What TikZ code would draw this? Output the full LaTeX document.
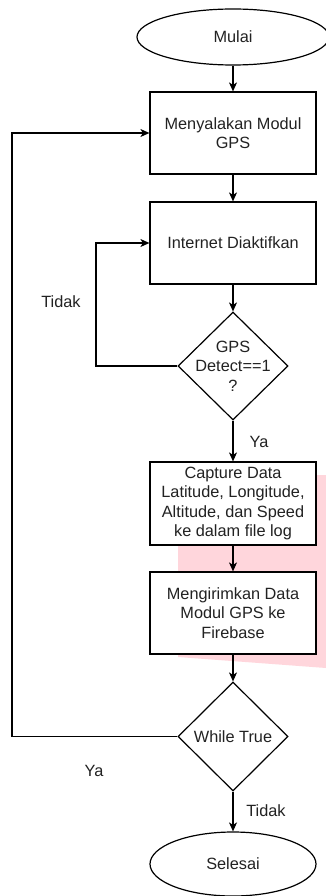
\documentclass[tikz,border=0pt]{standalone}
\usepackage{fontspec}
\setmainfont{Liberation Sans}
\usetikzlibrary{shapes.geometric,arrows.meta}
\definecolor{ink}{RGB}{34,34,34}
\definecolor{blush}{RGB}{255,214,220}
\begin{document}
\begin{tikzpicture}[x=1pt,y=-1pt,
  base/.style={draw=black, line width=1.2pt, fill=white, text=ink,
    font=\fontsize{16.3}{19.5}\selectfont, align=center, inner sep=0pt},
  terminal/.style={base, ellipse},
  process/.style={base, rectangle, minimum width=166pt, minimum height=82pt},
  decision/.style={base, diamond, minimum width=110pt, minimum height=108pt},
  caption/.style={text=ink, font=\fontsize{16.3}{19.5}\selectfont,
    align=center, inner sep=0pt},
  flow/.style={draw=black, line width=1.2pt,
    -{Stealth[length=9pt,width=8pt,inset=2.5pt]}}
]
% canvas
\fill[white] (0,0) rectangle (326,896);
\useasboundingbox (0,0) rectangle (326,896);

% pink highlight behind the two lower process boxes
\fill[blush] (178,478) -- (326,475) -- (326,668) -- (178,657) -- cycle;

% nodes
\node[terminal, minimum width=192pt, minimum height=56pt] (start) at (233,37) {Mulai};
\node[process] (gps) at (233,133) {Menyalakan Modul\\GPS};
\node[process] (net) at (233,243) {Internet Diaktifkan};
\node[decision] (detect) at (233,366) {};
\node[caption] (detecttxt) at (detect.center) {GPS\\Detect==1\\?};
\node[process, minimum height=83pt] (capture) at (233,503.5)
  {Capture Data\\Latitude, Longitude,\\Altitude, dan Speed\\ke dalam file log};
\node[process] (send) at (233,613) {Mengirimkan Data\\Modul GPS ke\\Firebase};
\node[decision, minimum height=109pt] (loop) at (233,736.5) {};
\node[caption] (looptxt) at (loop.center) {While True};
\node[terminal, minimum width=166pt, minimum height=64pt] (stop) at (233,864) {Selesai};

% bends of the return paths
\coordinate (k1) at (96,366);
\coordinate (k2) at (12,736.5);

% main flow
\draw[flow] (start) -- (gps);
\draw[flow] (gps) -- (net);
\draw[flow] (net) -- (detect);
\draw[flow] (detect) -- (capture);
\draw[flow] (capture) -- (send);
\draw[flow] (send) -- (loop);
\draw[flow] (loop) -- (stop);

% return paths
\draw[flow] (detect.west) -- (k1) |- (net.west);
\draw[flow] (loop.west) -- (k2) |- (gps.west);

% branch labels
\node[caption] (tidak1) at (61,302) {Tidak};
\node[caption] (ya1) at (259,442) {Ya};
\node[caption] (ya2) at (94,771) {Ya};
\node[caption] (tidak2) at (266,811) {Tidak};
\end{tikzpicture}
\end{document}
